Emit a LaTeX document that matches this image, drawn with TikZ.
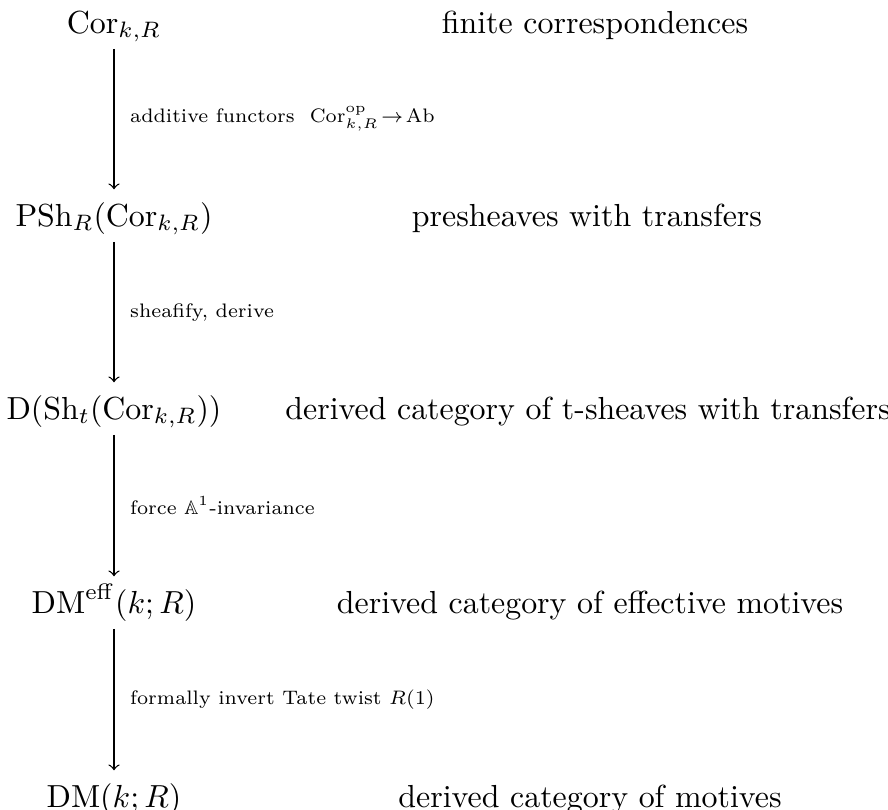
\documentclass[tikz,border=0pt]{standalone}
\usepackage{amsmath,amssymb}
\begin{document}
\begin{tikzpicture}[x=0.3135pt,y=-0.3135pt,
  obj/.style={anchor=base,inner xsep=2pt,inner ysep=3.8pt,text height=7.5pt,text depth=1pt},
  desc/.style={anchor=base},
  lab/.style={font=\scriptsize,scale=0.875,anchor=west,inner sep=0pt,xshift=5.6pt},
  arr/.style={->,line width=0.4pt}]
\useasboundingbox (0,0) rectangle (888,809);
\node[obj] (a) at (114,33) {$\mathrm{Cor}_{k,R}$};
\node[obj] (b) at (114,226) {$\mathrm{PSh}_R(\mathrm{Cor}_{k,R})$};
\node[obj] (c) at (114,419) {$\mathrm{D}(\mathrm{Sh}_t(\mathrm{Cor}_{k,R}))$};
\node[obj] (d) at (114,613) {$\mathrm{DM}^{\mathrm{eff}}(k;R)$};
\node[obj] (e) at (114,807) {$\mathrm{DM}(k;R)$};
\node[desc] (ta) at (595,33) {finite correspondences};
\node[desc] (tb) at (587,226) {presheaves with transfers};
\node[desc] (tc) at (588,419) {derived category of t-sheaves with transfers};
\node[desc] (td) at (590,613) {derived category of effective motives};
\node[desc] (te) at (590,807) {derived category of motives};
\draw[arr] (a) -- node[lab] (la) {additive functors~~$\mathrm{Cor}^{\mathrm{op}}_{k,R}\!\to\!\mathrm{Ab}$} (b);
\draw[arr] (b) -- node[lab] (lb) {sheafify, derive} (c);
\draw[arr] (c) -- node[lab] (lc) {force $\mathbb{A}^1$-invariance} (d);
\draw[arr] (d) -- node[lab] (ld) {formally invert Tate twist $R(1)$} (e);
\end{tikzpicture}
\end{document}
